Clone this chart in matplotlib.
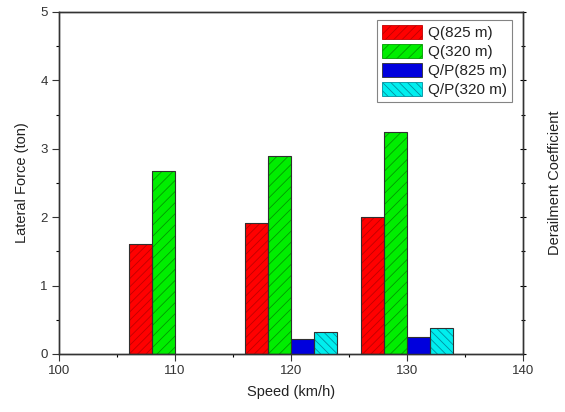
import matplotlib
matplotlib.use("Agg")
import matplotlib.pyplot as plt
import numpy as np

plt.rcParams['font.family'] = ['Liberation Sans', 'DejaVu Sans']

speeds = [110, 120, 130]
q_825 = [1.61, 1.92, 2.01]
q_320 = [2.68, 2.90, 3.24]
qp_speeds = [120, 130]
qp_825 = [0.22, 0.25]
qp_320 = [0.32, 0.375]

labels = ["Q(825 m)", "Q(320 m)", "Q/P(825 m)", "Q/P(320 m)"]
fills = ["#ff0000", "#00ee00", "#0000dd", "#00eeee"]
hcols = ["#c00000", "#009900", "#0000dd", "#008f9f"]
hatches = ["////", "///", None, "\\\\\\\\"]

fig = plt.figure(figsize=(5.65, 4.12), dpi=100)
ax = fig.add_axes([0.1044, 0.1408, 0.8213, 0.8301])
ax2 = ax.twinx()

bw = 2.0
offsets = [-3, -1, 1, 3]
plt.rcParams['hatch.linewidth'] = 0.6

def draw(a, xs, vals, i):
    xs = np.asarray(xs, dtype=float) + offsets[i]
    a.bar(xs, vals, width=bw, color=fills[i], edgecolor=hcols[i],
          hatch=hatches[i], linewidth=0, zorder=2)
    a.bar(xs, vals, width=bw, fill=False, edgecolor="#303030",
          linewidth=0.8, zorder=3)

draw(ax, speeds, q_825, 0)
draw(ax, speeds, q_320, 1)
draw(ax2, qp_speeds, qp_825, 2)
draw(ax2, qp_speeds, qp_320, 3)

for a in (ax, ax2):
    a.set_xlim(100, 140)
    a.set_ylim(0, 5)

ax.set_xticks([100, 110, 120, 130, 140])
ax.set_xticks([105, 115, 125, 135], minor=True)
ax.set_yticks([0, 1, 2, 3, 4, 5])
ax.set_yticks([0.5, 1.5, 2.5, 3.5, 4.5], minor=True)
ax2.set_yticks([0, 1, 2, 3, 4, 5])
ax2.set_yticks([0.5, 1.5, 2.5, 3.5, 4.5], minor=True)
ax2.set_yticklabels([])

ax.tick_params(axis='both', which='major', direction='out', length=5,
               width=0.8, labelsize=9.5, colors='#333333', pad=3)
ax.tick_params(axis='both', which='minor', direction='out', length=2.5, width=0.8)
ax.tick_params(top=False)
ax2.tick_params(axis='y', which='major', direction='inout', length=5, width=0.8)
ax2.tick_params(axis='y', which='minor', direction='inout', length=3, width=0.8)

for a in (ax, ax2):
    for s in a.spines.values():
        s.set_linewidth(1.0)
        s.set_color('#333333')

ax.set_xlabel("Speed (km/h)", fontsize=10.5, color='#222222', labelpad=6)
ax.set_ylabel("Lateral Force (ton)", fontsize=10.5, color='#222222', labelpad=8)
ax2.set_ylabel("Derailment Coefficient", fontsize=10.5, color='#222222')
ax2.yaxis.set_label_coords(1.054, 0.5)

from matplotlib.patches import Patch
handles = [Patch(facecolor=fills[i], edgecolor=hcols[i] if hatches[i] else "#303030",
                 hatch=hatches[i], linewidth=0.6) for i in range(4)]
leg = ax.legend(handles, labels, loc='upper right', bbox_to_anchor=(0.977, 0.977),
                fontsize=11, frameon=True, fancybox=False, edgecolor='#666666',
                handlelength=2.6, handleheight=1.0, handletextpad=0.4,
                labelspacing=0.25, borderpad=0.35, borderaxespad=0)
leg.get_frame().set_linewidth(0.8)
for t in leg.get_texts():
    t.set_color('#222222')

fig.savefig("out.png", dpi=100)
